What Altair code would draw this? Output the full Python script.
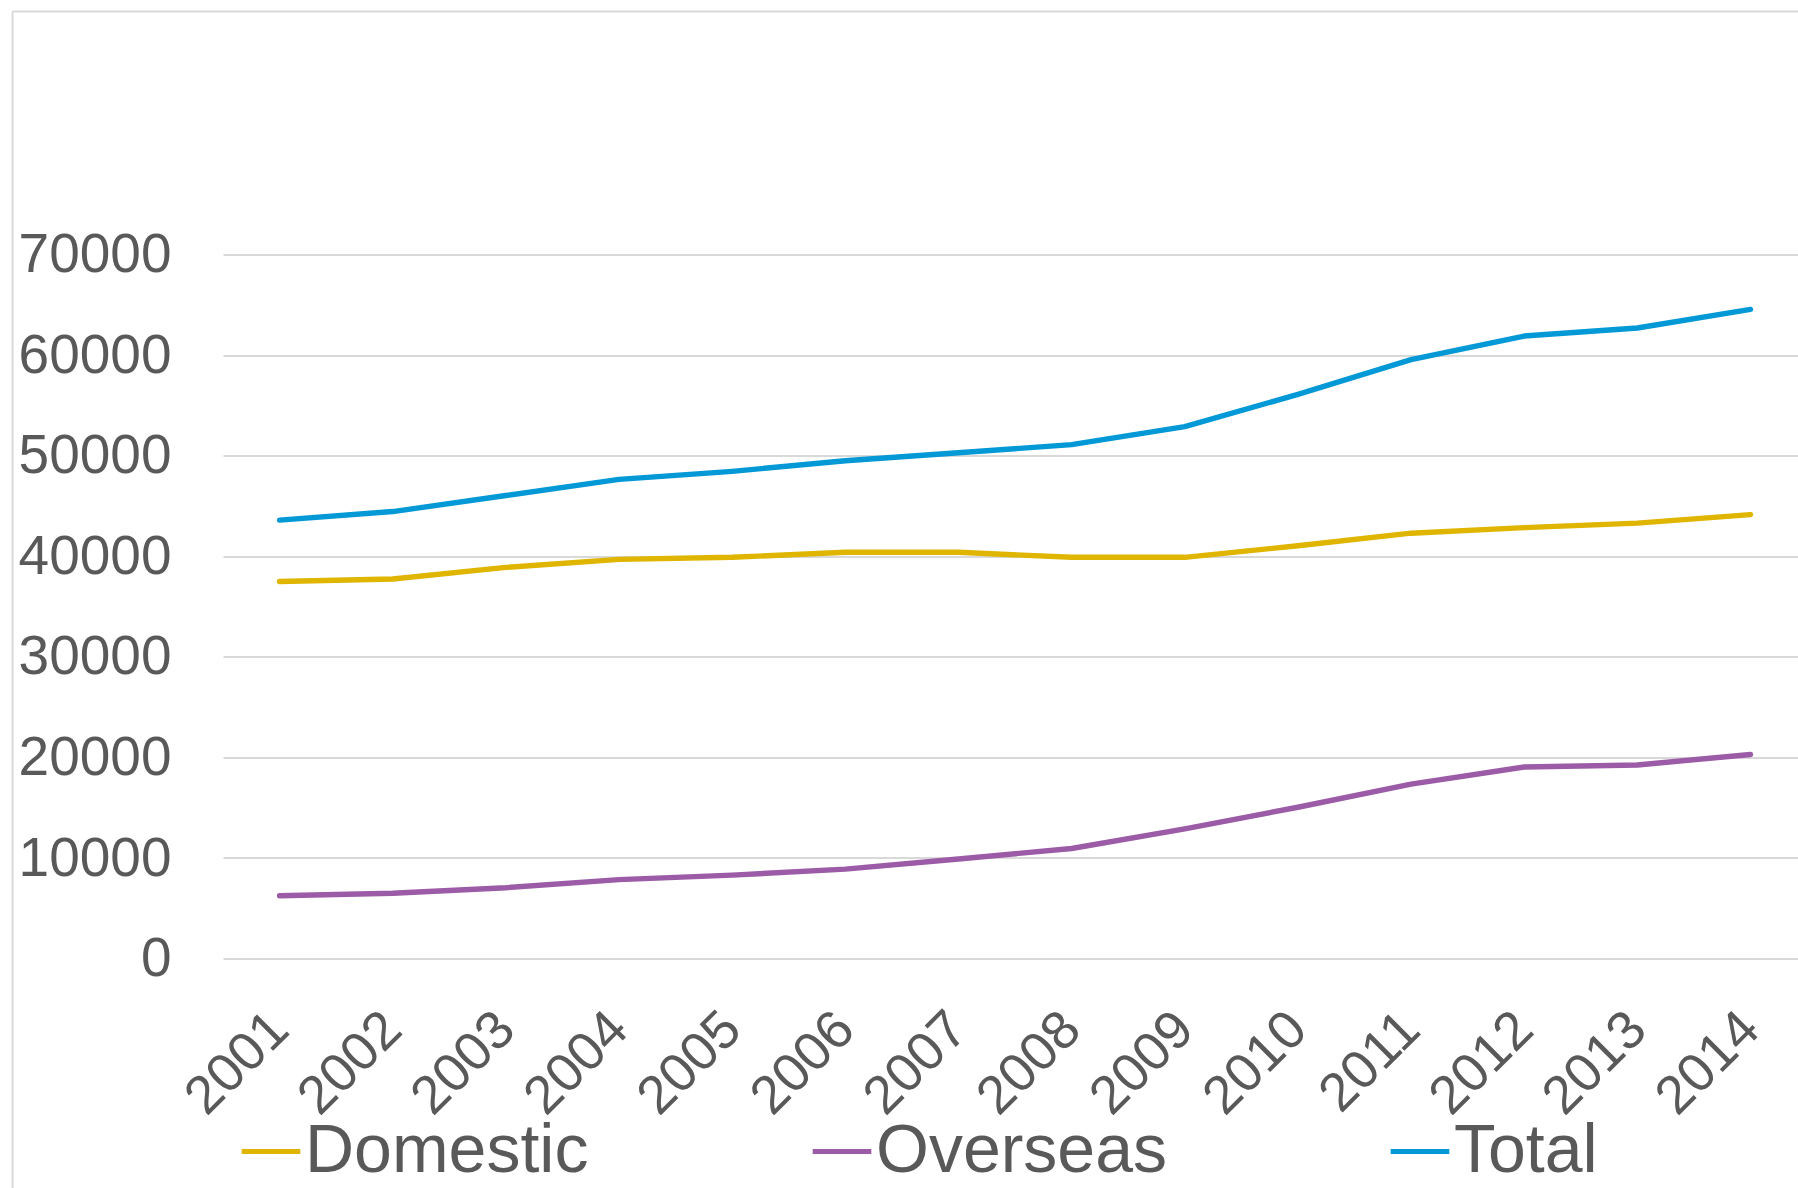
import altair as alt
import pandas as pd

# Annual figures, 2001-2014
years = list(range(2001, 2015))
domestic = [37500, 37750, 38900, 39700, 39900, 40400, 40400, 39900, 39900, 41050, 42300, 42850, 43300, 44150]
overseas = [6250, 6500, 7050, 7850, 8300, 8900, 9900, 10950, 12900, 15050, 17350, 19050, 19250, 20300]
total = [43600, 44450, 46050, 47650, 48450, 49500, 50300, 51100, 52900, 56100, 59550, 61900, 62700, 64550]

series = ["Domestic", "Overseas", "Total"]
colors = ["#DFB500", "#9C5BA7", "#0398D6"]
y_ticks = [0, 10000, 20000, 30000, 40000, 50000, 60000, 70000]

rows = []
for name, vals in zip(series, [domestic, overseas, total]):
    for yr, v in zip(years, vals):
        rows.append({"year": yr, "series": name, "value": v})
df = pd.DataFrame(rows)

FONT = "Liberation Sans"
TEXT = "#595959"
GRID = "#D9D9D9"

lines = alt.Chart(df).mark_line(strokeWidth=5.4, strokeCap="round", strokeJoin="round").encode(
    x=alt.X(
        "year:Q",
        scale=alt.Scale(domain=[2000.5, 2014.42], nice=False, zero=False),
        axis=alt.Axis(
            title=None, values=years, format="d",
            labelAngle=-45, labelAlign="right", labelBaseline="middle",
            labelFont=FONT, labelFontSize=54, labelColor=TEXT, labelPadding=62,
            labelOverlap=False, labelFlush=False,
            ticks=False, tickSize=0, domain=False, grid=False,
        ),
    ),
    y=alt.Y(
        "value:Q",
        scale=alt.Scale(domain=[0, 70000], nice=False, zero=True),
        axis=alt.Axis(
            title=None, values=y_ticks, format="d",
            labelFont=FONT, labelFontSize=55, labelColor=TEXT, labelPadding=52,
            ticks=False, tickSize=0, domain=False,
            grid=True, gridColor=GRID, gridWidth=2,
        ),
    ),
    color=alt.Color(
        "series:N",
        scale=alt.Scale(domain=series, range=colors),
        legend=alt.Legend(
            title=None, orient="none", direction="horizontal",
            legendX=14, legendY=863, padding=0,
            symbolType="stroke", symbolSize=3437, symbolStrokeWidth=5,
            labelFont=FONT, labelFontSize=68, labelColor=TEXT,
            labelOffset=0, labelLimit=600, columnPadding=213,
        ),
    ),
    order=alt.Order("year:Q"),
)

# Light frame around the chart area (top and left edges)
frame_df = pd.DataFrame({"k": [0]})
left_edge = alt.Chart(frame_df).mark_rule(color=GRID, strokeWidth=2).encode(
    x=alt.value(-210.5), y=alt.value(-243), y2=alt.value(960)
)
top_edge = alt.Chart(frame_df).mark_rule(color=GRID, strokeWidth=2).encode(
    x=alt.value(-210.5), x2=alt.value(1600), y=alt.value(-243)
)

chart = alt.layer(left_edge, top_edge, lines).properties(
    width=1575,
    height=704,
    padding={"left": 223, "top": 254.6, "right": 0, "bottom": 229.4},
    autosize=alt.AutoSizeParams(type="none"),
    background="white",
).configure_view(stroke=None)

chart.save("out.html", embed_options={"renderer": "svg", "actions": False})
